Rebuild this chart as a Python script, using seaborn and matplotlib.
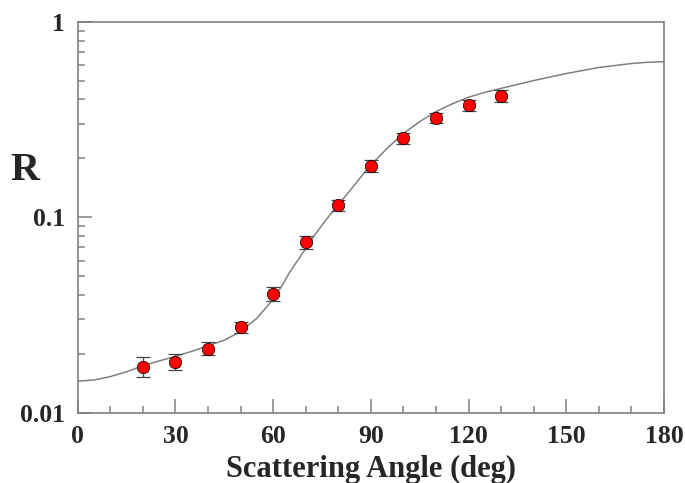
import numpy as np
import pandas as pd
import matplotlib
matplotlib.use('Agg')
import matplotlib.pyplot as plt
import seaborn as sns
from matplotlib.ticker import MultipleLocator, LogLocator, FixedLocator, FixedFormatter, NullFormatter

# measured points
angle = [20, 30, 40, 50, 60, 70, 80, 90, 100, 110, 120, 130]
ratio = [0.0172, 0.0182, 0.0213, 0.0273, 0.0406, 0.0746, 0.1153, 0.1825,
         0.2537, 0.322, 0.373, 0.4175]
ratio_err = [0.0020, 0.0017, 0.0016, 0.0018, 0.0033, 0.0055, 0.0077, 0.013,
             0.017, 0.020, 0.025, 0.030]

# theory curve
curve_angle = [0, 5, 10, 15, 20, 25, 30, 35, 40, 45, 50, 55, 60, 62.5, 65,
               67.5, 70, 72.5, 75, 77.5, 80, 82.5, 85, 87.5, 90, 92.5, 95,
               97.5, 100, 105, 110, 115, 120, 125, 130, 140, 150, 160, 170,
               175, 180]
curve_ratio = [0.0145, 0.0147, 0.0153, 0.0162, 0.0174, 0.0184, 0.0194, 0.0206,
               0.0220, 0.0235, 0.0260, 0.0304, 0.0380, 0.0440, 0.0520, 0.0600,
               0.0690, 0.0800, 0.0910, 0.1030, 0.1160, 0.1300, 0.1460, 0.1650,
               0.1846, 0.2040, 0.2250, 0.2460, 0.2680, 0.3080, 0.3470, 0.3800,
               0.4110, 0.4350, 0.4560, 0.5000, 0.5430, 0.5830, 0.6110, 0.6200,
               0.6240]

xticks = [0, 30, 60, 90, 120, 150, 180]
yticks = [0.01, 0.1, 1]
ylabels = ['0.01', '0.1', '1']

sns.set_style('ticks')
plt.rcParams['font.family'] = ['Liberation Serif', 'DejaVu Serif']
plt.rcParams['font.weight'] = 'bold'

df_curve = pd.DataFrame({'angle': curve_angle, 'R': curve_ratio})
df_pts = pd.DataFrame({'angle': angle, 'R': ratio, 'err': ratio_err})

fig = plt.figure(figsize=(6.85, 4.83), dpi=100)
ax = fig.add_axes([0.1134, 0.1455, 0.8559, 0.8096])

sns.lineplot(data=df_curve, x='angle', y='R', ax=ax, color='#808080',
             linewidth=1.1, zorder=2)
ax.errorbar(df_pts['angle'], df_pts['R'], yerr=df_pts['err'], fmt='none',
            ecolor='#444444', elinewidth=0.9, capsize=4.8, capthick=0.9,
            zorder=3)
sns.scatterplot(data=df_pts, x='angle', y='R', ax=ax, color='#ff0000',
                s=80, edgecolor='black', linewidth=0.5, zorder=4)

ax.set_yscale('log')
ax.set_xlim(0, 180)
ax.set_ylim(0.01, 1)

ax.xaxis.set_major_locator(FixedLocator(xticks))
ax.xaxis.set_minor_locator(MultipleLocator(10))
ax.yaxis.set_major_locator(FixedLocator(yticks))
ax.yaxis.set_major_formatter(FixedFormatter(ylabels))
ax.yaxis.set_minor_locator(LogLocator(base=10, subs=np.arange(2, 10)))
ax.yaxis.set_minor_formatter(NullFormatter())

for s in ax.spines.values():
    s.set_color('#808080')
    s.set_linewidth(1.2)

ax.tick_params(which='both', direction='in', color='#808080', width=1.1,
               top=False, right=False)
ax.tick_params(which='major', length=10, labelsize=18.5, pad=9)
ax.tick_params(which='minor', length=4.8)
for lab in ax.get_xticklabels() + ax.get_yticklabels():
    lab.set_fontweight('bold')

ax.set_xlabel('Scattering Angle (deg)', fontsize=22, fontweight='bold',
              labelpad=5)
ax.set_ylabel('R', fontsize=29, fontweight='bold', rotation=0, va='center',
              ha='center')
ax.yaxis.set_label_coords(-0.09, 0.62)

fig.savefig('out.png', dpi=100)
